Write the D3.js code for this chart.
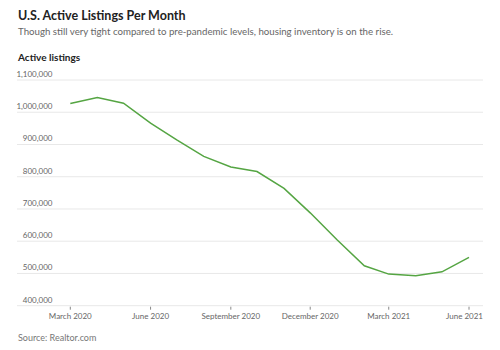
<!DOCTYPE html>
<html>
<head>
<meta charset="utf-8">
<script src="https://cdn.jsdelivr.net/npm/d3@7"></script>
<style>
  html, body { margin: 0; padding: 0; background: #fff; }
  svg { display: block; font-family: Lato, "Noto Sans", sans-serif; }
</style>
</head>
<body>
<svg id="chart" width="500" height="350"></svg>
<script>
const months = ["2020-03","2020-04","2020-05","2020-06","2020-07","2020-08","2020-09","2020-10","2020-11","2020-12","2021-01","2021-02","2021-03","2021-04","2021-05","2021-06"];
const listings = [1027000,1046000,1028000,966000,914000,863000,830000,816000,764000,688000,604000,524000,498000,493000,505000,550000];
const yTicks = [400000,500000,600000,700000,800000,900000,1000000,1100000];
const xTicks = ["2020-03","2020-06","2020-09","2020-12","2021-03","2021-06"];
const title = "U.S. Active Listings Per Month";
const subtitle = "Though still very tight compared to pre-pandemic levels, housing inventory is on the rise.";
const yLabel = "Active listings";
const source = "Source: Realtor.com";

const parse = d3.timeParse("%Y-%m");
const data = months.map((m, i) => ({ date: parse(m), value: listings[i] }));

const svg = d3.select("#chart");
const left = 17, right = 483;
const x = d3.scaleTime().domain([parse(months[0]), parse(months[months.length - 1])]).range([70.3, 469]);
const y = d3.scaleLinear().domain([400000, 1100000]).range([305.7, 80]);

svg.append("text").attr("x", 18).attr("y", 19.5)
  .attr("font-size", 12.5).attr("font-weight", 700).attr("fill", "#222").text(title);
svg.append("text").attr("x", 18).attr("y", 35)
  .attr("font-size", 9.7).attr("fill", "#666").text(subtitle);
svg.append("text").attr("x", 18).attr("y", 61)
  .attr("font-size", 10).attr("font-weight", 700).attr("fill", "#222").text(yLabel);

// gridlines + y labels
const g = svg.append("g");
g.selectAll("line.grid").data(yTicks).join("line")
  .attr("class", "grid")
  .attr("x1", left).attr("x2", right)
  .attr("y1", d => y(d)).attr("y2", d => y(d))
  .attr("stroke", "#e8e8e8").attr("stroke-width", 1);
g.selectAll("text.ylab").data(yTicks).join("text")
  .attr("class", "ylab")
  .attr("x", 52.5).attr("y", d => y(d) - 3)
  .attr("text-anchor", "end")
  .attr("font-size", 8).attr("fill", "#666")
  .text(d3.format(","));

// x axis ticks and labels
const xt = xTicks.map(parse);
const fmt = d3.timeFormat("%B %Y");
svg.selectAll("line.xtick").data(xt).join("line")
  .attr("class", "xtick")
  .attr("x1", d => x(d)).attr("x2", d => x(d))
  .attr("y1", y(400000) + 1).attr("y2", y(400000) + 4)
  .attr("stroke", "#888").attr("stroke-width", 1);
svg.selectAll("text.xlab").data(xt).join("text")
  .attr("class", "xlab")
  .attr("x", (d, i) => i === xt.length - 1 ? right : x(d))
  .attr("y", 318.5)
  .attr("text-anchor", (d, i) => i === xt.length - 1 ? "end" : "middle")
  .attr("font-size", 8).attr("fill", "#666")
  .text(fmt);

// line
const line = d3.line().x(d => x(d.date)).y(d => y(d.value));
svg.append("path").datum(data)
  .attr("d", line)
  .attr("fill", "none")
  .attr("stroke", "#55a543")
  .attr("stroke-width", 1.5);

svg.append("text").attr("x", 18).attr("y", 341)
  .attr("font-size", 9).attr("fill", "#777").text(source);
</script>
</body>
</html>
